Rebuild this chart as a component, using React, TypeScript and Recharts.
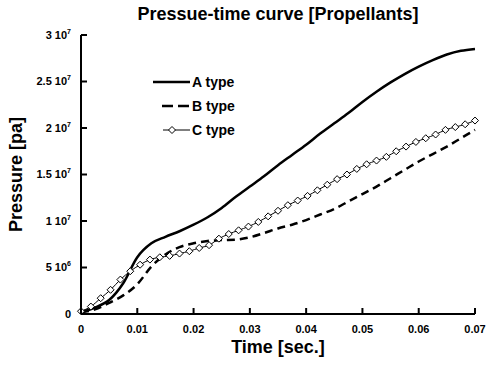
import { LineChart, Line, XAxis, YAxis } from 'recharts';

const FONT = '"Liberation Sans", Arial, sans-serif';

// time axis (sec.) and pressures in units of 10^6 Pa
const timeAB = [
  0, 0.0025, 0.005, 0.0075, 0.01, 0.0125, 0.015, 0.0175, 0.02, 0.0225, 0.025, 0.0275, 0.03, 0.0325,
  0.035, 0.0375, 0.04, 0.0425, 0.045, 0.0475, 0.05, 0.0525, 0.055, 0.0575, 0.06, 0.0625, 0.065,
  0.0675, 0.07,
];
const pressA = [
  0.2, 0.7, 1.5, 3.3, 6.1, 7.6, 8.3, 8.9, 9.6, 10.4, 11.4, 12.6, 13.7, 14.8, 16.0, 17.1, 18.2, 19.4,
  20.5, 21.6, 22.8, 23.9, 24.9, 25.8, 26.6, 27.3, 27.9, 28.3, 28.5,
];
const pressB = [
  0.2, 0.5, 1.2, 2.0, 3.2, 5.1, 6.4, 7.2, 7.6, 7.85, 7.95, 8.0, 8.25, 8.7, 9.2, 9.6, 10.1, 10.7, 11.3,
  12.1, 12.9, 13.7, 14.6, 15.5, 16.4, 17.2, 18.0, 18.9, 19.8,
];
const timeC = [
  0, 0.00175, 0.0035, 0.00525, 0.007, 0.00875, 0.0105, 0.01225, 0.014, 0.01575, 0.0175, 0.01925,
  0.021, 0.02275, 0.0245, 0.02625, 0.028, 0.02975, 0.0315, 0.03325, 0.035, 0.03675, 0.0385, 0.04025,
  0.042, 0.04375, 0.0455, 0.04725, 0.049, 0.05075, 0.0525, 0.05425, 0.056, 0.05775, 0.0595, 0.06125,
  0.063, 0.06475, 0.0665, 0.06825, 0.07,
];
const pressC = [
  0.3, 0.8, 1.7, 2.6, 3.7, 4.6, 5.3, 5.85, 6.1, 6.25, 6.5, 6.75, 7.1, 7.4, 8.1, 8.6, 9.0, 9.4, 9.9,
  10.5, 11.1, 11.7, 12.2, 12.7, 13.3, 13.9, 14.5, 15.0, 15.6, 16.1, 16.5, 16.9, 17.5, 18.0, 18.5,
  18.9, 19.3, 19.8, 20.1, 20.4, 20.8,
];

const xTicks = [0, 0.01, 0.02, 0.03, 0.04, 0.05, 0.06, 0.07];
const yTicks = [0, 5, 10, 15, 20, 25, 30];
const yMantissa = ['0', '5', '1', '1.5', '2', '2.5', '3'];
const yExponent = ['', '6', '7', '7', '7', '7', '7'];

const seriesNames = ['A type', 'B type', 'C type'];

const dataA = timeAB.map((t, i) => ({ t, p: pressA[i] }));
const dataB = timeAB.map((t, i) => ({ t, p: pressB[i] }));
const dataC = timeC.map((t, i) => ({ t, p: pressC[i] }));

const TICK_MARGIN_X = 11;
const TICK_MARGIN_Y = 10;

function XTick({ x, y, payload }: any) {
  const axisY = y - TICK_MARGIN_X;
  return (
    <g>
      <line x1={x} x2={x} y1={axisY} y2={axisY - 6} stroke="#000" strokeWidth={2} />
      <text x={x} y={y} dy="0.71em" textAnchor="middle" fontFamily={FONT} fontWeight="bold" fontSize={11} fill="#000">
        {String(payload.value)}
      </text>
    </g>
  );
}

function YTick({ x, y, payload, index }: any) {
  const axisX = x + TICK_MARGIN_Y;
  const exp = yExponent[index];
  return (
    <g>
      <line x1={axisX} x2={axisX + 6} y1={y} y2={y} stroke="#000" strokeWidth={2} />
      <text x={x} y={y} dy="0.355em" textAnchor="end" fontFamily={FONT} fontWeight="bold" fontSize={11} fill="#000">
        {exp ? (
          <>
            {yMantissa[index]} 10
            <tspan dy={-5} fontSize={7}>{exp}</tspan>
          </>
        ) : (
          yMantissa[index] ?? String(payload.value)
        )}
      </text>
    </g>
  );
}

function Diamond({ cx, cy }: any) {
  if (cx == null || cy == null) return null;
  const r = 3.5;
  return (
    <polygon
      points={`${cx},${cy - r} ${cx + r},${cy} ${cx},${cy + r} ${cx - r},${cy}`}
      fill="#fff"
      stroke="#000"
      strokeWidth={1}
    />
  );
}

function Overlay() {
  const rows = [82, 106, 130];
  return (
    <svg width={493} height={369} style={{ position: 'absolute', left: 0, top: 0, pointerEvents: 'none' }}>
      <text x={278} y={20} textAnchor="middle" fontFamily={FONT} fontWeight="bold" fontSize={18}>
        Pressue-time curve [Propellants]
      </text>
      <line x1={153} x2={190} y1={rows[0]} y2={rows[0]} stroke="#000" strokeWidth={2.5} />
      <line x1={162} x2={190} y1={rows[1]} y2={rows[1]} stroke="#000" strokeWidth={2.5} strokeDasharray="11 5" />
      <line x1={163} x2={190} y1={rows[2]} y2={rows[2]} stroke="#000" strokeWidth={1} />
      <polygon
        points={`172,${rows[2] - 3.5} 175.5,${rows[2]} 172,${rows[2] + 3.5} 168.5,${rows[2]}`}
        fill="#fff"
        stroke="#000"
      />
      {seriesNames.map((name, i) => (
        <text key={name} x={192} y={rows[i]} dy="0.355em" fontFamily={FONT} fontWeight="bold" fontSize={14}>
          {name}
        </text>
      ))}
    </svg>
  );
}

export default function App() {
  return (
    <div style={{ position: 'absolute', left: 0, top: 0, width: 493, height: 369, background: '#fff' }}>
      <LineChart width={493} height={369} margin={{ top: 35, right: 18, bottom: 0, left: 0 }}>
        <XAxis
          dataKey="t"
          type="number"
          domain={[0, 0.07]}
          ticks={xTicks}
          height={55}
          tickSize={0}
          tickMargin={TICK_MARGIN_X}
          tick={<XTick />}
          axisLine={{ stroke: '#000', strokeWidth: 2 }}
          allowDuplicatedCategory={false}
          label={{
            value: 'Time [sec.]',
            position: 'insideBottom',
            offset: 16,
            style: { fontFamily: FONT, fontWeight: 'bold', fontSize: 18, fill: '#000' },
          }}
        />
        <YAxis
          type="number"
          domain={[0, 30]}
          ticks={yTicks}
          width={81}
          tickSize={0}
          tickMargin={TICK_MARGIN_Y}
          tick={<YTick />}
          axisLine={{ stroke: '#000', strokeWidth: 2 }}
          label={{
            value: 'Pressure [pa]',
            angle: -90,
            position: 'insideLeft',
            offset: 16,
            style: { textAnchor: 'middle', fontFamily: FONT, fontWeight: 'bold', fontSize: 18, fill: '#000' },
          }}
        />
        <Line data={dataA} dataKey="p" type="monotone" stroke="#000" strokeWidth={2.5} dot={false} isAnimationActive={false} />
        <Line
          data={dataB}
          dataKey="p"
          type="monotone"
          stroke="#000"
          strokeWidth={2.5}
          strokeDasharray="8 5"
          dot={false}
          isAnimationActive={false}
        />
        <Line data={dataC} dataKey="p" type="monotone" stroke="#000" strokeWidth={1} dot={<Diamond />} isAnimationActive={false} />
      </LineChart>
      <Overlay />
    </div>
  );
}
